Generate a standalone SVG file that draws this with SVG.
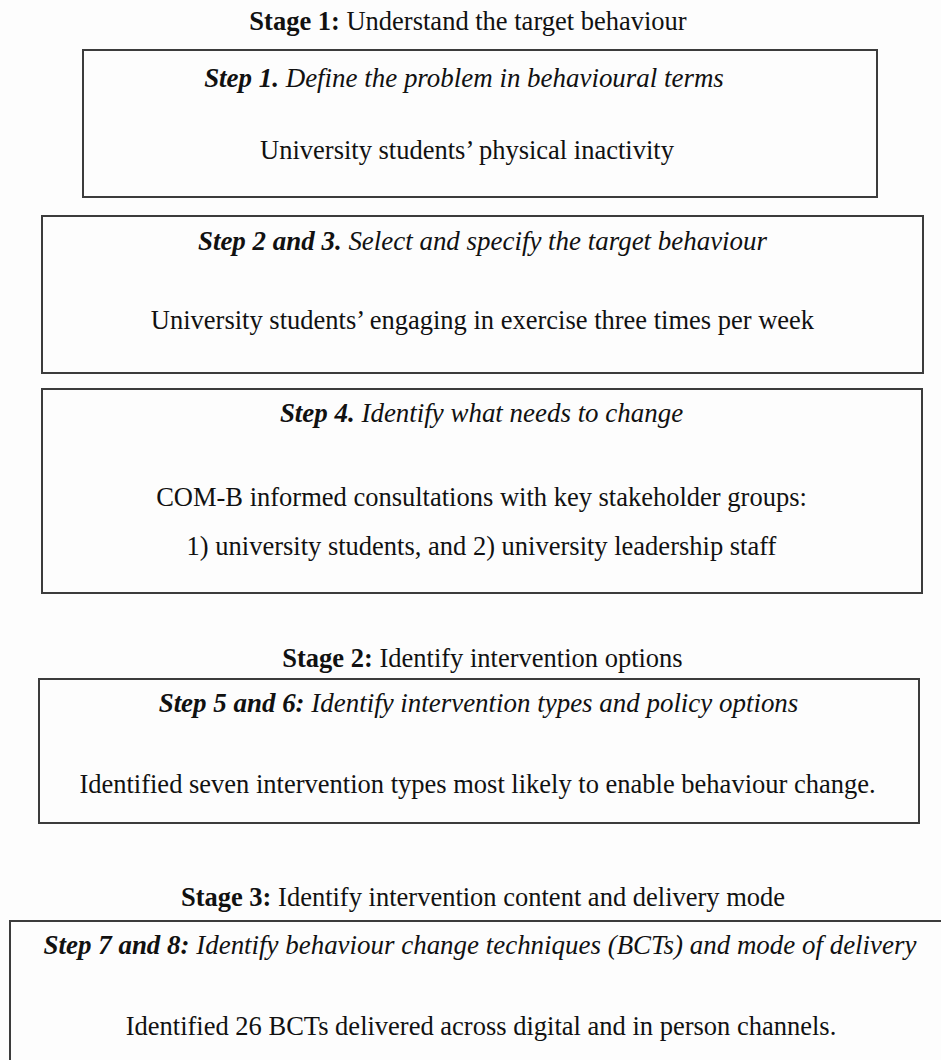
<svg xmlns="http://www.w3.org/2000/svg" width="941" height="1060" viewBox="0 0 941 1060">
<style>
text{font-family:"Liberation Serif","Times New Roman",serif;font-size:26.5px;fill:#111;text-anchor:middle}
.b{font-weight:bold}
.i{font-style:italic;font-size:26.95px}
.box{fill:none;stroke:#3c3c3c;stroke-width:2}
</style>
<rect x="0" y="0" width="941" height="1060" fill="#fdfdfd"/>
<g id="stage1"><text x="468" y="30"><tspan class="b">Stage 1:</tspan> Understand the target behaviour</text></g>
<g id="step1">
<rect class="box" x="83" y="50" width="794" height="147"/>
<text class="i" x="464" y="87"><tspan class="b">Step 1.</tspan> Define the problem in behavioural terms</text>
<text x="467" y="159">University students’ physical inactivity</text>
</g>
<g id="step2-3">
<rect class="box" x="42" y="216" width="881" height="157"/>
<text class="i" x="482.5" y="250"><tspan class="b">Step 2 and 3.</tspan> Select and specify the target behaviour</text>
<text x="482.5" y="329">University students’ engaging in exercise three times per week</text>
</g>
<g id="step4">
<rect class="box" x="42" y="389" width="880" height="204"/>
<text class="i" x="481.5" y="422"><tspan class="b">Step 4.</tspan> Identify what needs to change</text>
<text x="481.5" y="506">COM-B informed consultations with key stakeholder groups:</text>
<text x="481.5" y="555">1) university students, and 2) university leadership staff</text>
</g>
<g id="stage2"><text x="482.5" y="667"><tspan class="b">Stage 2:</tspan> Identify intervention options</text></g>
<g id="step5-6">
<rect class="box" x="39" y="679" width="880" height="144"/>
<text class="i" x="478.5" y="712"><tspan class="b">Step 5 and 6:</tspan> Identify intervention types and policy options</text>
<text x="477.5" y="793">Identified seven intervention types most likely to enable behaviour change.</text>
</g>
<g id="stage3"><text x="483" y="906"><tspan class="b">Stage 3:</tspan> Identify intervention content and delivery mode</text></g>
<g id="step7-8">
<rect class="box" x="10" y="921" width="940" height="150"/>
<text class="i" x="480" y="954"><tspan class="b">Step 7 and 8:</tspan> Identify behaviour change techniques (BCTs) and mode of delivery</text>
<text x="481" y="1035">Identified 26 BCTs delivered across digital and in person channels.</text>
</g>
<g id="connectors"/>
</svg>
